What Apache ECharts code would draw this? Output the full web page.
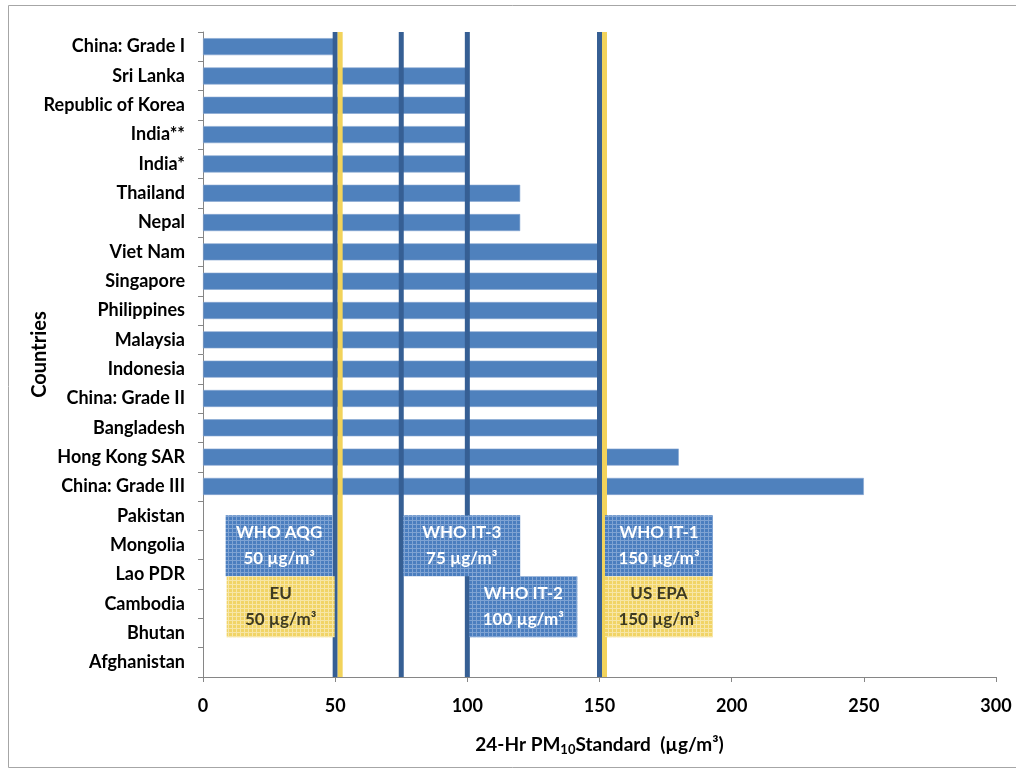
<!DOCTYPE html>
<html>
<head>
<meta charset="utf-8">
<title>24-Hr PM10 Standards</title>
<script src="https://cdn.jsdelivr.net/npm/echarts@6/dist/echarts.min.js"></script>
<style>
  html, body { margin: 0; padding: 0; background: #ffffff; }
  #chart { width: 1016px; height: 771px; }
</style>
</head>
<body>
<div id="chart"></div>
<script>
// Countries, top to bottom
const countries = [
  'China: Grade I', 'Sri Lanka', 'Republic of Korea', 'India**', 'India*',
  'Thailand', 'Nepal', 'Viet Nam', 'Singapore', 'Philippines', 'Malaysia',
  'Indonesia', 'China: Grade II', 'Bangladesh', 'Hong Kong SAR', 'China: Grade III',
  'Pakistan', 'Mongolia', 'Lao PDR', 'Cambodia', 'Bhutan', 'Afghanistan'
];
// 24-hour PM10 standard per country (µg/m³); null = no standard
const pm10Standard = [
  50, 100, 100, 100, 100,
  120, 120, 150, 150, 150, 150,
  150, 150, 150, 180, 250,
  null, null, null, null, null, null
];
// Guideline lines
const whoLevels = [50, 75, 100, 150];   // WHO AQG / interim targets
const euUsLevels = [50, 150];           // EU and US EPA
// Guideline captions
const guideNames = ['WHO AQG', 'EU', 'WHO IT-3', 'WHO IT-2', 'WHO IT-1', 'US EPA'];
const guideValues = [50, 50, 75, 100, 150, 150];
const xTicks = [0, 50, 100, 150, 200, 250, 300];

const FONT = 'Lato, "Open Sans", sans-serif';
const BAR = '#4f81bd';
const WHO_LINE = '#365f94';
const EU_LINE = '#f2d35b';

// caption box layout: which side of the line, which row, which family
const guideLayout = [
  { side: 'left',  row: 0, kind: 'who', width: 107 },
  { side: 'left',  row: 1, kind: 'eu',  width: 108, overlap: 2 },
  { side: 'right', row: 0, kind: 'who', width: 117 },
  { side: 'right', row: 1, kind: 'who', width: 108 },
  { side: 'right', row: 0, kind: 'who', width: 108, after: true },
  { side: 'right', row: 1, kind: 'eu',  width: 108, after: true }
];

function gridPattern(base, line) {
  const c = document.createElement('canvas');
  c.width = 4; c.height = 4;
  const g = c.getContext('2d');
  g.fillStyle = base; g.fillRect(0, 0, 4, 4);
  g.fillStyle = line;
  g.fillRect(0, 0, 4, 1);
  g.fillRect(0, 0, 1, 4);
  return c;
}
const bluePattern = { image: gridPattern('#4b7ebf', '#7fa3d3'), repeat: 'repeat' };
const yellowPattern = { image: gridPattern('#f1d466', '#f7e6a6'), repeat: 'repeat' };

const chart = echarts.init(document.getElementById('chart'), null, { renderer: 'canvas' });

const option = {
  backgroundColor: '#ffffff',
  animation: false,
  graphic: [{
    type: 'rect', z: -10,
    shape: { x: 8.5, y: 5.5, width: 1020, height: 762 },
    style: { fill: 'none', stroke: '#a6a6a6', lineWidth: 1 }
  }],
  grid: { left: 203, right: 20, top: 32, bottom: 94 },
  xAxis: {
    type: 'value', min: 0, max: 300, interval: 50,
    name: '{a|24-Hr PM}{s|10}{a|Standard  (µg/m³)}',
    nameLocation: 'middle', nameGap: 56, nameMoveOverlap: false,
    nameTextStyle: {
      rich: {
        a: { fontFamily: FONT, fontSize: 19, fontWeight: 'bold', color: '#000' },
        s: { fontFamily: FONT, fontSize: 13, fontWeight: 'bold', color: '#000', padding: [10, 0, 0, 0] }
      }
    },
    axisLine: { show: true, lineStyle: { color: '#868686', width: 1 } },
    axisTick: { show: true, length: 5, lineStyle: { color: '#868686' } },
    axisLabel: {
      margin: 20, fontFamily: FONT, fontSize: 18, fontWeight: 'bold', color: '#000',
      formatter: v => xTicks.includes(v) ? String(v) : ''
    },
    splitLine: { show: false }
  },
  yAxis: {
    type: 'category', data: countries, inverse: true,
    name: 'Countries', nameLocation: 'middle', nameGap: 153, nameRotate: 90,
    nameMoveOverlap: false,
    nameTextStyle: { fontFamily: FONT, fontSize: 20, fontWeight: 'bold', color: '#000' },
    axisLine: { show: true, lineStyle: { color: '#868686', width: 1 } },
    axisTick: { show: true, length: 5, lineStyle: { color: '#868686' } },
    axisLabel: { margin: 18, fontFamily: FONT, fontSize: 18, fontWeight: 'bold', color: '#000' }
  },
  series: [
    {
      type: 'bar', data: pm10Standard, barCategoryGap: '42%',
      itemStyle: { color: BAR, borderColor: '#86a6d2', borderWidth: 0.6 },
      z: 2
    },
    {
      // vertical guideline bars spanning the plot height
      type: 'custom', z: 4,
      data: whoLevels.map(v => [v, 0]).concat(euUsLevels.map(v => [v, 1])),
      renderItem: (params, api) => {
        const cs = params.coordSys;
        const kind = api.value(1);
        const x = api.coord([api.value(0), 0])[0] + (kind === 1 ? 5 : 0);
        return {
          type: 'rect',
          shape: { x: x - 2.5, y: cs.y, width: 5, height: cs.height },
          style: { fill: kind === 1 ? EU_LINE : WHO_LINE }
        };
      },
      silent: true
    },
    {
      // caption boxes for each guideline
      type: 'custom', z: 6,
      data: guideValues.map((v, i) => [v, i]),
      renderItem: (params, api) => {
        const i = api.value(1);
        const lay = guideLayout[i];
        const xLine = api.coord([api.value(0), 0])[0];
        const top0 = api.coord([0, 'Pakistan'])[1] - 0.5;
        const h = 61;
        const y = top0 + lay.row * h;
        let x;
        if (lay.side === 'left') x = xLine - 2.5 - lay.width + (lay.overlap || 0);
        else x = xLine + (lay.after ? 5.5 : 2);
        const isEu = lay.kind === 'eu';
        return {
          type: 'group',
          children: [
            {
              type: 'rect',
              shape: { x: x, y: y, width: lay.width, height: h },
              style: { fill: isEu ? yellowPattern : bluePattern }
            },
            {
              type: 'text',
              x: x + lay.width / 2, y: y + h / 2,
              style: {
                text: guideNames[i] + '\n' + api.value(0) + ' µg/m³',
                align: 'center', verticalAlign: 'middle',
                fontFamily: FONT, fontSize: 17, fontWeight: 'bold', lineHeight: 26,
                fill: isEu ? '#3d3a22' : '#ffffff'
              }
            }
          ]
        };
      },
      silent: true
    }
  ]
};
chart.setOption(option);
</script>
</body>
</html>
